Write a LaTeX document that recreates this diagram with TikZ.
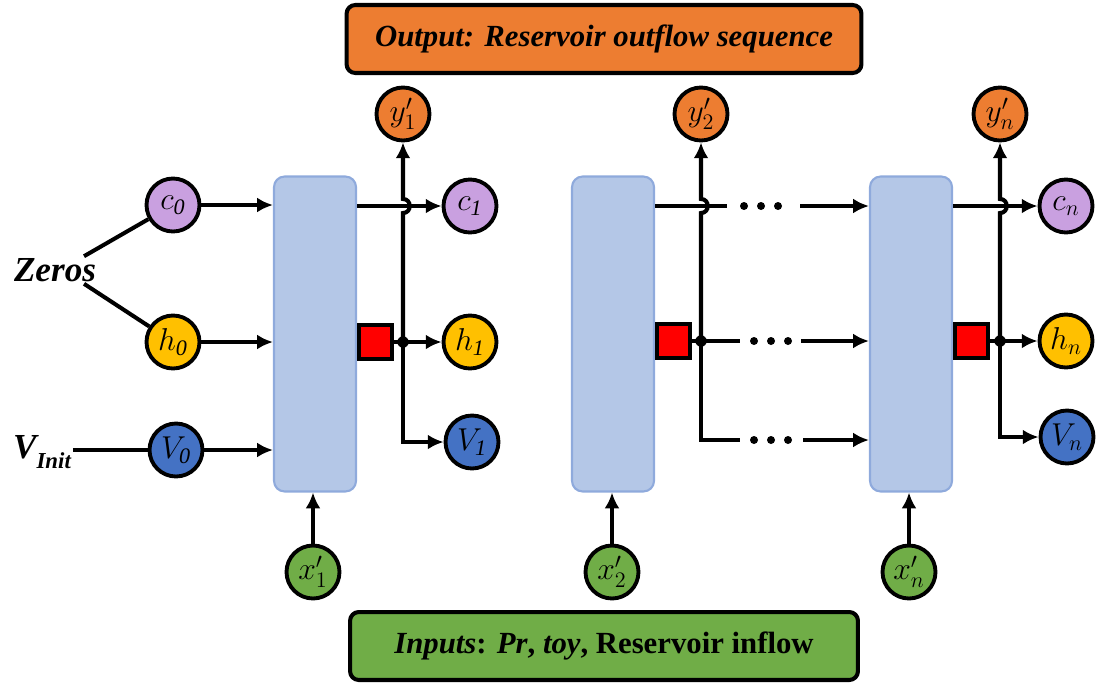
\documentclass[tikz,border=0pt]{standalone}
\usepackage{fix-cm}
\usepackage{fontspec}
\setmainfont{Liberation Serif}
\usetikzlibrary{positioning,arrows.meta,calc}
\definecolor{outorange}{HTML}{ED7D31}
\definecolor{ingreen}{HTML}{70AD47}
\definecolor{hgold}{HTML}{FFC000}
\definecolor{vblue}{HTML}{4472C4}
\definecolor{clilac}{HTML}{C9A0E0}
\definecolor{cellfill}{HTML}{B4C7E7}
\definecolor{cellline}{HTML}{8FAADC}
\tikzset{
  flowarrow/.style={-{Latex[length=9pt,width=8.5pt]}, line width=2.3pt},
  flowline/.style={line width=2.3pt},
  statenode/.style={circle, draw, line width=2.2pt, minimum size=1.06cm, inner sep=0pt, font=\fontsize{18}{21}\selectfont},
  cellbox/.style={draw=cellline, fill=cellfill, line width=1.2pt, rounded corners=6pt, minimum width=1.64cm, minimum height=6.3cm},
  gatebox/.style={draw, fill=red, line width=2.2pt, minimum size=19pt, inner sep=0pt},
  joint/.style={circle, fill, inner sep=0pt, minimum size=6.5pt},
  titlebox/.style={draw, rounded corners=5pt, line width=2.3pt, minimum width=10.3cm, minimum height=1.36cm, font=\fontsize{17.5}{20}\selectfont\bfseries},
  sidelabel/.style={inner sep=1pt, font=\fontsize{20}{24}\selectfont\bfseries\itshape}
}
\begin{document}
\begin{tikzpicture}[x=0.02cm, y=-0.02cm]
  \useasboundingbox (0,0) rectangle (1097,683);
  % boxes on top and bottom
  \node[titlebox, fill=outorange] (out) at (604,39) {\itshape Output: Reservoir outflow sequence};
  \node[titlebox, fill=ingreen, minimum width=10.16cm] (inp) at (604,646) {\textit{Inputs}: \textit{Pr}, \textit{toy}, Reservoir inflow};

  % initial states
  \node[sidelabel] (zeros) at (55,270) {Zeros};
  \node[sidelabel] (vinit) at (42,452) {V\raisebox{-6pt}{\fontsize{13}{14}\selectfont Init}};
  \node[statenode, fill=clilac] (c0) at (173,205) {$c_{\mathit{0}}$};
  \node[statenode, fill=hgold] (h0) at (173,342) {$h_{\mathit{0}}$};
  \node[statenode, fill=vblue] (v0) at (176,450) {$V_{\mathit{0}}$};

  % cells
  \node[cellbox] (cell1) at (315,334) {};
  \node[cellbox] (cell2) at (613,334) {};
  \node[cellbox] (cell3) at (911,334) {};

  % column 1
  \node[gatebox, anchor=west] (g1) at (cell1.east |- 0,342) {};
  \node[joint] (j1) at (403,342) {};
  \node[statenode, fill=outorange] (y1) at (403,114) {$y'_1$};
  \node[statenode, fill=clilac] (c1) at (470,206) {$c_{\mathit{1}}$};
  \node[statenode, fill=hgold] (h1) at (470,342) {$h_{\mathit{1}}$};
  \node[statenode, fill=vblue] (v1) at (472,442) {$V_{\mathit{1}}$};
  \node[statenode, fill=ingreen] (x1) at (313,572) {$x'_1$};

  % column 2
  \node[gatebox, anchor=west] (g2) at (cell2.east |- 0,341) {};
  \node[joint] (j2) at (701,341) {};
  \node[statenode, fill=outorange] (y2) at (701,114) {$y'_2$};
  \node[statenode, fill=ingreen] (x2) at (612,572) {$x'_2$};

  % column n
  \node[gatebox, anchor=west] (g3) at (cell3.east |- 0,341) {};
  \node[joint] (j3) at (1000,341) {};
  \node[statenode, fill=outorange] (y3) at (1000,114) {$y'_n$};
  \node[statenode, fill=clilac] (c3) at (1066,206) {$c_n$};
  \node[statenode, fill=hgold] (h3) at (1066,341) {$h_n$};
  \node[statenode, fill=vblue] (v3) at (1067,437) {$V_n$};
  \node[statenode, fill=ingreen] (x3) at (909,572) {$x'_n$};

  % inputs to first cell
  \draw[flowline] ([xshift=-8pt]zeros.north east) -- (c0);
  \draw[flowline] ([xshift=-8pt]zeros.south east) -- (h0);
  \draw[flowline] (vinit.east |- v0) -- (v0);
  \draw[flowarrow] (c0) -- (c0 -| cell1.west);
  \draw[flowarrow] (h0) -- (h0 -| cell1.west);
  \draw[flowarrow] (v0) -- (v0 -| cell1.west);
  \draw[flowarrow] (x1) -- (x1 |- cell1.south);
  \draw[flowarrow] (x2) -- (x2 |- cell2.south);
  \draw[flowarrow] (x3) -- (x3 |- cell3.south);

  % outputs of cell 1
  \draw[flowarrow] (cell1.east |- c1) -- (c1);
  \draw[flowarrow] (g1) -- (h1);
  \draw[flowarrow] (j1.center) |- (v1);
  \draw[flowarrow] (j1.center) -- ($(j1 |- c1)+(0,7)$) .. controls +(9,0) and +(9,0) .. ($(j1 |- c1)+(0,-7)$) -- (y1);

  % outputs of cell 2, dotted gap
  \coordinate (c2a) at (727,206);
  \coordinate (c2b) at (800,206);
  \coordinate (h2a) at (740,341);
  \coordinate (h2b) at (801,341);
  \coordinate (v2a) at (740,440);
  \coordinate (v2b) at (803,440);
  \draw[flowline] (cell2.east |- c2a) -- (c2a);
  \draw[flowline] (g2) -- (h2a);
  \draw[flowline] (j2.center) |- (v2a);
  \draw[flowarrow] (j2.center) -- (701,213) .. controls +(9,0) and +(9,0) .. (701,199) -- (y2);
  \draw[flowarrow] (c2b) -- (c2b -| cell3.west);
  \draw[flowarrow] (h2b) -- (h2b -| cell3.west);
  \draw[flowarrow] (v2b) -- (v2b -| cell3.west);
  \fill (744,206) circle[radius=4];
  \fill (761,206) circle[radius=4];
  \fill (778,206) circle[radius=4];
  \fill (754,341) circle[radius=4];
  \fill (771,341) circle[radius=4];
  \fill (788,341) circle[radius=4];
  \fill (754,440) circle[radius=4];
  \fill (771,440) circle[radius=4];
  \fill (788,440) circle[radius=4];

  % outputs of cell n
  \draw[flowarrow] (cell3.east |- c3) -- (c3);
  \draw[flowarrow] (g3) -- (h3);
  \draw[flowarrow] (j3.center) |- (v3);
  \draw[flowarrow] (j3.center) -- ($(j3 |- c3)+(0,7)$) .. controls +(9,0) and +(9,0) .. ($(j3 |- c3)+(0,-7)$) -- (y3);
\end{tikzpicture}
\end{document}
